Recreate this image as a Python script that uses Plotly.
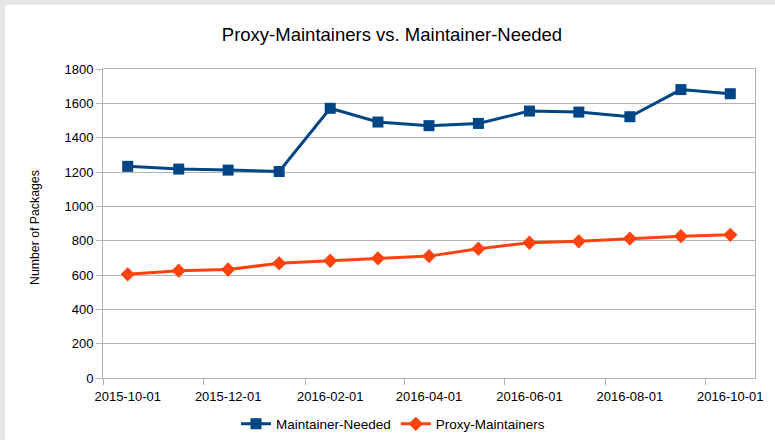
import plotly.graph_objects as go
import pandas as pd

dates = ["2015-10-16", "2015-11-16", "2015-12-16", "2016-01-16", "2016-02-16",
         "2016-03-16", "2016-04-16", "2016-05-16", "2016-06-16", "2016-07-16",
         "2016-08-16", "2016-09-16", "2016-10-16"]
maintainer_needed = [1233, 1217, 1211, 1203, 1571, 1491, 1470, 1483, 1555, 1549, 1522, 1680, 1656]
proxy_maintainers = [604, 625, 632, 668, 683, 697, 710, 753, 788, 796, 812, 826, 834]

tick_labels = ["2015-10-01", "2015-12-01", "2016-02-01", "2016-04-01",
               "2016-06-01", "2016-08-01", "2016-10-01"]

# labels sit centred under each labelled month; tick marks at month starts
label_pos = [(pd.Timestamp(t) + pd.Timedelta(days=15)).strftime("%Y-%m-%d") for t in tick_labels]

BLUE = "#004586"
ORANGE = "#ff420e"
GRID = "#b3b3b3"
FONT = "Liberation Sans"

fig = go.Figure()
fig.add_trace(go.Scatter(
    x=dates, y=maintainer_needed, name="Maintainer-Needed",
    mode="lines+markers",
    line=dict(color=BLUE, width=3),
    marker=dict(symbol="square", size=11, color=BLUE),
))
fig.add_trace(go.Scatter(
    x=dates, y=proxy_maintainers, name="Proxy-Maintainers",
    mode="lines+markers",
    line=dict(color=ORANGE, width=3),
    marker=dict(symbol="diamond", size=11, color=ORANGE),
))

fig.add_shape(type="rect", xref="paper", yref="paper",
              x0=-98/652, x1=(775-103)/652, y0=-62/309, y1=(378-5)/309,
              fillcolor="white", line=dict(width=0), layer="below")

fig.add_annotation(text="Number of Packages", xref="paper", yref="paper",
                   x=(35-103)/652, y=(378-228)/309, textangle=-90, showarrow=False,
                   xanchor="center", yanchor="middle",
                   font=dict(family=FONT, size=12.3, color="#000000"))

fig.update_layout(
    width=775, height=440,
    paper_bgcolor="#e6e6e8", plot_bgcolor="white",
    margin=dict(l=103, r=20, t=69, b=62, autoexpand=False),
    title=dict(text="Proxy-Maintainers vs. Maintainer-Needed",
               x=392/775, xanchor="center", y=1-35/440, yanchor="middle",
               font=dict(family=FONT, size=18.5, color="#000000")),
    font=dict(family=FONT, size=13, color="#000000"),
    showlegend=True,
    legend=dict(orientation="h", x=(393-103)/652, xanchor="center",
                y=-(424-378)/309, yanchor="middle",
                font=dict(family=FONT, size=13.5, color="#000000"),
                bgcolor="rgba(0,0,0,0)", itemwidth=30),
    xaxis=dict(
        type="date", range=["2015-10-01", "2016-10-31"],
        tickmode="array", tickvals=label_pos, ticktext=tick_labels,
        showgrid=False, showline=True, linecolor=GRID, linewidth=1,
        mirror=True, ticks="outside", ticklen=6, tickcolor="rgba(0,0,0,0)",
        zeroline=False, tickfont=dict(family=FONT, size=13),
        minor=dict(tickmode="array", tickvals=tick_labels, ticks="outside",
                   ticklen=6, tickcolor=GRID, showgrid=False),
    ),
    yaxis=dict(
        range=[0, 1800], dtick=200, showgrid=True, gridcolor=GRID, gridwidth=1,
        showline=True, linecolor=GRID, linewidth=1, mirror=True,
        ticks="outside", ticklen=6, tickcolor=GRID, zeroline=False,
        tickfont=dict(family=FONT, size=13),
    ),
)

fig.write_html("out.html", config={"displayModeBar": False},
               post_script="document.body.style.margin='0';")
